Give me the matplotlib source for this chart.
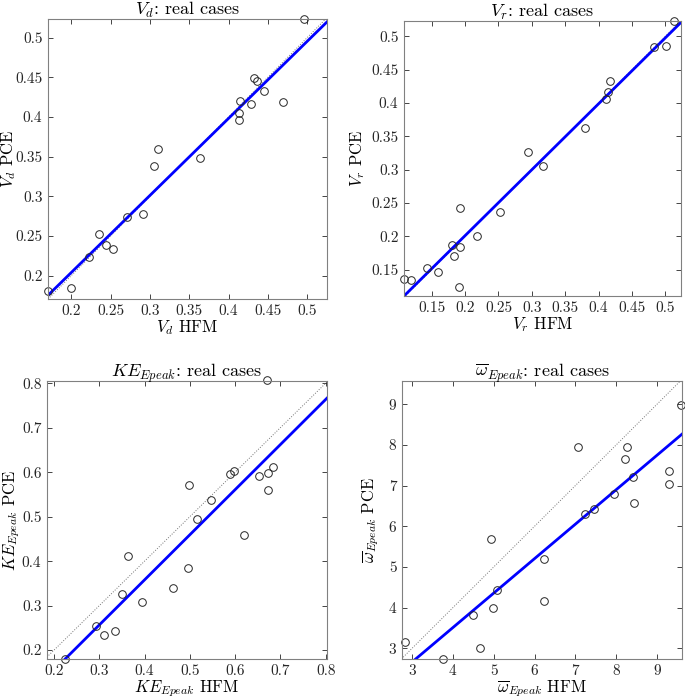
import numpy as np
import matplotlib
matplotlib.use("Agg")
import matplotlib.pyplot as plt
from matplotlib.ticker import FuncFormatter

plt.rcParams['font.family'] = 'cmr10'
plt.rcParams['mathtext.fontset'] = 'cm'
plt.rcParams['axes.formatter.use_mathtext'] = True

# --- data ---
vd_hfm = [0.170, 0.1996, 0.2224, 0.2355, 0.2440, 0.2537, 0.2715, 0.2910, 0.3050, 0.3100,
          0.3642, 0.4141, 0.4137, 0.4137, 0.4285, 0.4323, 0.4366, 0.4446, 0.4687, 0.4958]
vd_pce = [0.1806, 0.1849, 0.2240, 0.2526, 0.2387, 0.2332, 0.2736, 0.2774, 0.3376, 0.3594,
          0.3485, 0.4196, 0.4053, 0.3960, 0.4158, 0.4486, 0.4453, 0.4322, 0.4183, 0.5235]
vd_fit = (0.9715, 0.0096)

vr_hfm = [0.1085, 0.1185, 0.1435, 0.1590, 0.1810, 0.1830, 0.1930, 0.1930, 0.1915, 0.2180,
          0.2520, 0.2940, 0.3170, 0.3800, 0.4110, 0.4145, 0.4170, 0.4835, 0.5010, 0.5125]
vr_pce = [0.1365, 0.1350, 0.1530, 0.1470, 0.1865, 0.1700, 0.1845, 0.2420, 0.1245, 0.2005,
          0.2365, 0.3270, 0.3055, 0.3625, 0.4055, 0.4160, 0.4325, 0.4835, 0.4860, 0.5230]
vr_fit = (0.989, 0.0032)

ke_hfm = [0.2243, 0.2928, 0.3105, 0.3348, 0.3495, 0.3642, 0.3944, 0.4621, 0.4953, 0.4982,
          0.5152, 0.5476, 0.5881, 0.5984, 0.6205, 0.6521, 0.6735, 0.6735, 0.6838, 0.6713]
ke_pce = [0.1798, 0.2538, 0.2344, 0.2419, 0.3263, 0.4115, 0.3091, 0.3405, 0.3839, 0.5707,
          0.4945, 0.5378, 0.5961, 0.6036, 0.4586, 0.5909, 0.5984, 0.5595, 0.6126, 0.8069]
ke_fit = (1.0138, -0.0476)

om_hfm = [2.820, 3.759, 4.665, 4.486, 4.927, 4.992, 5.073, 6.241, 6.233, 7.073,
          7.237, 7.465, 7.939, 8.224, 8.257, 8.420, 8.437, 9.302, 9.302, 9.596]
om_pce = [3.147, 2.739, 3.000, 3.816, 5.678, 4.004, 4.429, 5.204, 4.167, 7.939,
          6.306, 6.420, 6.804, 7.653, 7.939, 7.212, 6.584, 7.351, 7.049, 8.976]
om_fit = (0.8473, 0.121)

panels = [
    dict(x=vd_hfm, y=vd_pce, fit=vd_fit, name=r'$V_d$',
         xlim=(0.1705, 0.5252), ylim=(0.1706, 0.5235),
         ticks=[0.2, 0.25, 0.3, 0.35, 0.4, 0.45, 0.5],
         pos=[48 / 685, 1 - 299 / 700, 279 / 685, 280 / 700], ylx=-0.109),
    dict(x=vr_hfm, y=vr_pce, fit=vr_fit, name=r'$V_r$',
         xlim=(0.1085, 0.5235), ylim=(0.1105, 0.523),
         ticks=[0.15, 0.2, 0.25, 0.3, 0.35, 0.4, 0.45, 0.5],
         pos=[404 / 685, 1 - 296 / 700, 277 / 685, 275 / 700], ylx=-0.132),
    dict(x=ke_hfm, y=ke_pce, fit=ke_fit, name=r'$KE_{Epeak}$',
         xlim=(0.1845, 0.803), ylim=(0.18, 0.805),
         ticks=[0.2, 0.3, 0.4, 0.5, 0.6, 0.7, 0.8],
         pos=[47 / 685, 1 - 659 / 700, 280 / 685, 278 / 700], ylx=-0.09),
    dict(x=om_hfm, y=om_pce, fit=om_fit, name=r'$\overline{\omega}_{Epeak}$',
         xlim=(2.755, 9.612), ylim=(2.739, 9.571),
         ticks=[3, 4, 5, 6, 7, 8, 9],
         pos=[402 / 685, 1 - 659 / 700, 280 / 685, 278 / 700], ylx=-0.075),
]

fig = plt.figure(figsize=(6.85, 7.0), dpi=100)
fmt = FuncFormatter(lambda v, p: f'{v:g}')

for p in panels:
    ax = fig.add_axes(p['pos'])
    lo = min(p['xlim'][0], p['ylim'][0])
    hi = max(p['xlim'][1], p['ylim'][1])
    ax.plot([lo, hi], [lo, hi], ':', color='0.45', lw=0.7)
    slope, icpt = p['fit']
    xs = np.array(p['xlim'])
    ax.plot(xs, slope * xs + icpt, color='#0000ff', lw=2.0)
    ax.plot(p['x'], p['y'], 'o', mfc='none', mec='#262626', ms=5.5, mew=0.7, clip_on=False)
    ax.set_xlim(p['xlim'])
    ax.set_ylim(p['ylim'])
    ax.set_xticks(p['ticks'])
    ax.set_yticks(p['ticks'])
    ax.xaxis.set_major_formatter(fmt)
    ax.yaxis.set_major_formatter(fmt)
    ax.tick_params(direction='in', top=True, right=True, length=3.5, width=0.6,
                   colors='#262626', labelsize=11, pad=4)
    for s in ax.spines.values():
        s.set_color('#808080')
        s.set_linewidth(0.8)
    ax.set_title(p['name'] + ': real cases', fontsize=13, pad=3)
    ax.set_xlabel(p['name'] + ' HFM', fontsize=12)
    ax.set_ylabel(p['name'] + ' PCE', fontsize=12)
    ax.xaxis.set_label_coords(0.5, -0.068)
    ax.yaxis.set_label_coords(p['ylx'], 0.5)

plt.savefig('out.png', dpi=100)
